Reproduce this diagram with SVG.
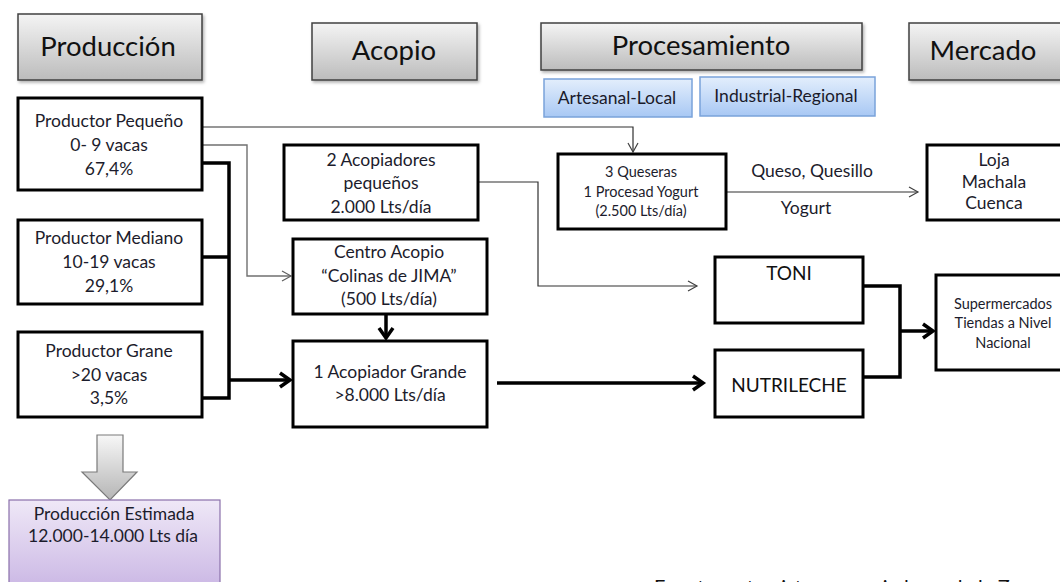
<svg xmlns="http://www.w3.org/2000/svg" width="1060" height="582" viewBox="0 0 1060 582">
<defs>
<linearGradient id="gHead" x1="0" y1="0" x2="0" y2="1">
<stop offset="0" stop-color="#f4f4f4"/><stop offset="1" stop-color="#bcbcbc"/>
</linearGradient>
<linearGradient id="gBlue" x1="0" y1="0" x2="0" y2="1">
<stop offset="0" stop-color="#e3eefc"/><stop offset="1" stop-color="#a8c8f4"/>
</linearGradient>
<linearGradient id="gPurple" x1="0" y1="0" x2="0" y2="1">
<stop offset="0" stop-color="#efe8f7"/><stop offset="1" stop-color="#c6b1e2"/>
</linearGradient>
<linearGradient id="gArrow" x1="0" y1="0" x2="0" y2="1">
<stop offset="0" stop-color="#f7f7f7"/><stop offset="1" stop-color="#b5b5b5"/>
</linearGradient>
<filter id="sh" x="-10%" y="-10%" width="130%" height="140%">
<feDropShadow dx="1.5" dy="2" stdDeviation="1.5" flood-color="#000" flood-opacity="0.3"/>
</filter>
<marker id="aThin" markerUnits="userSpaceOnUse" markerWidth="12" markerHeight="12" refX="10" refY="6" orient="auto" overflow="visible">
<path d="M1,1 L10,6 L1,11" fill="none" stroke="#404040" stroke-width="1.2"/>
</marker>
<marker id="aGray" markerUnits="userSpaceOnUse" markerWidth="12" markerHeight="12" refX="10" refY="6" orient="auto" overflow="visible">
<path d="M1,1 L10,6 L1,11" fill="none" stroke="#606060" stroke-width="1.2"/>
</marker>
<marker id="aThick" markerUnits="userSpaceOnUse" markerWidth="14" markerHeight="16" refX="11" refY="8" orient="auto" overflow="visible">
<path d="M1,1 L11,8 L1,15" fill="none" stroke="#000" stroke-width="3.5" stroke-linejoin="miter"/>
</marker>
<style>
.hd{fill:url(#gHead);stroke:#404040;stroke-width:1.5;filter:url(#sh)}
.hdt{font-family:Lato,"Liberation Sans",sans-serif;font-size:27.5px;fill:#111;text-anchor:middle}
.bl{fill:url(#gBlue);stroke:#7aa3da;stroke-width:1.5}
.blt{font-family:Lato,"Liberation Sans",sans-serif;font-size:17.5px;fill:#1a1a2a;text-anchor:middle}
.nd{fill:#fff;stroke:#000;stroke-width:3}
.t{font-family:Lato,"Liberation Sans",sans-serif;font-size:17.5px;fill:#1c1c2c;text-anchor:middle}
.ts{font-family:Lato,"Liberation Sans",sans-serif;font-size:14.5px;fill:#1c1c2c;text-anchor:middle}
.tb{font-family:Lato,"Liberation Sans",sans-serif;font-size:19px;fill:#111;text-anchor:middle}
.thin{fill:none;stroke:#303030;stroke-width:1.2}
.gray{fill:none;stroke:#707070;stroke-width:1.4}
.thick{fill:none;stroke:#000;stroke-width:3.5}
</style>
</defs>
<rect width="1060" height="582" fill="#fff"/>

<g id="header-produccion"><rect class="hd" x="18" y="14" width="184" height="66"/><text class="hdt" x="108" y="56">Producción</text></g>
<g id="header-acopio"><rect class="hd" x="312" y="23" width="165" height="57"/><text class="hdt" x="394" y="60">Acopio</text></g>
<g id="header-procesamiento"><rect class="hd" x="541" y="23" width="321" height="47"/><text class="hdt" x="701" y="55">Procesamiento</text></g>
<g id="header-mercado"><rect class="hd" x="909" y="23" width="160" height="57"/><text class="hdt" x="983" y="60">Mercado</text></g>

<g id="artesanal-local"><rect class="bl" x="544" y="79" width="148" height="38"/><text class="blt" x="617" y="104">Artesanal-Local</text></g>
<g id="industrial-regional"><rect class="bl" x="700" y="77" width="175" height="39"/><text class="blt" x="786" y="102">Industrial-Regional</text></g>

<g id="connectors">
<polyline class="thin" points="203,127 633,127 633,152" marker-end="url(#aThin)"/>
<polyline class="gray" points="203,145 247,145 247,276 291,276" marker-end="url(#aGray)"/>
<polyline class="thick" points="202,163 229,163 229,398 202,398"/>
<line class="thick" x1="202" y1="257" x2="229" y2="257"/>
<line class="thick" x1="229" y1="380" x2="290" y2="380" marker-end="url(#aThick)"/>
<polyline class="thin" points="479,182 538,182 538,286 697,286" marker-end="url(#aThin)"/>
<line class="thick" x1="386" y1="315" x2="386" y2="338" marker-end="url(#aThick)"/>
<line class="thick" x1="497" y1="383" x2="703" y2="383" marker-end="url(#aThick)"/>
<line class="thin" x1="727" y1="192" x2="918" y2="192" marker-end="url(#aThin)"/>
<polyline class="thick" points="863,286 900,286 900,377 863,377"/>
<line class="thick" x1="900" y1="331" x2="933" y2="331" marker-end="url(#aThick)"/>
<text class="t" x="812" y="177" font-size="15.5">Queso, Quesillo</text>
<text class="t" x="806" y="214" font-size="15.5">Yogurt</text>
</g>

<g id="productor-pequeno"><rect class="nd" x="18" y="98" width="184" height="92"/>
<text class="t" x="109" y="127">Productor Pequeño</text><text class="t" x="109" y="151">0- 9 vacas</text><text class="t" x="109" y="175">67,4%</text></g>
<g id="productor-mediano"><rect class="nd" x="18" y="220" width="184" height="84"/>
<text class="t" x="109" y="244">Productor Mediano</text><text class="t" x="109" y="268">10-19 vacas</text><text class="t" x="109" y="292">29,1%</text></g>
<g id="productor-grande"><rect class="nd" x="18" y="332" width="184" height="85"/>
<text class="t" x="109" y="357">Productor Grane</text><text class="t" x="109" y="381">&gt;20 vacas</text><text class="t" x="109" y="404">3,5%</text></g>

<g id="acopiadores-pequenos"><rect class="nd" x="284" y="145" width="194" height="75"/>
<text class="t" x="381" y="166">2 Acopiadores</text><text class="t" x="381" y="189">pequeños</text><text class="t" x="381" y="213">2.000 Lts/día</text></g>
<g id="centro-acopio"><rect class="nd" x="293" y="239" width="194" height="75"/>
<text class="t" x="389" y="258">Centro Acopio</text><text class="t" x="389" y="282">“Colinas de JIMA”</text><text class="t" x="389" y="305">(500 Lts/día)</text></g>
<g id="acopiador-grande"><rect class="nd" x="293" y="341" width="194" height="86"/>
<text class="t" x="390" y="378">1 Acopiador Grande</text><text class="t" x="390" y="401">&gt;8.000 Lts/día</text></g>

<g id="queseras"><rect class="nd" x="558" y="154" width="168" height="75"/>
<text class="ts" x="641" y="177">3 Queseras</text><text class="ts" x="641" y="197">1 Procesad Yogurt</text><text class="ts" x="641" y="216">(2.500 Lts/día)</text></g>
<g id="loja"><rect class="nd" x="927" y="145" width="150" height="75"/>
<text class="t" x="994" y="166" font-size="16">Loja</text><text class="t" x="994" y="188" font-size="16">Machala</text><text class="t" x="994" y="209" font-size="16">Cuenca</text></g>

<g id="toni"><rect class="nd" x="715" y="257" width="148" height="66"/><text class="tb" x="789" y="280">TONI</text></g>
<g id="nutrileche"><rect class="nd" x="715" y="350" width="148" height="67"/><text class="tb" x="789" y="392">NUTRILECHE</text></g>
<g id="supermercados"><rect class="nd" x="936" y="275" width="140" height="95"/>
<text class="ts" x="1003" y="309">Supermercados</text><text class="ts" x="1003" y="328">Tiendas a Nivel</text><text class="ts" x="1003" y="348">Nacional</text></g>

<g id="produccion-estimada">
<polygon points="97,435 123,435 123,472 137,472 110,500 82,472 97,472" fill="url(#gArrow)" stroke="#7a7a7a" stroke-width="1.2"/>
<rect x="9" y="500" width="211" height="100" fill="url(#gPurple)" stroke="#8a70ab" stroke-width="1.2"/>
<text class="t" x="114" y="520">Producción Estimada</text><text class="t" x="113" y="542">12.000-14.000 Lts día</text>
</g>

<text x="654" y="594" font-family="Lato,'Liberation Sans',sans-serif" font-size="20" fill="#111">Fuente: entrevistas a acopiadores de la Zona</text>
</svg>
